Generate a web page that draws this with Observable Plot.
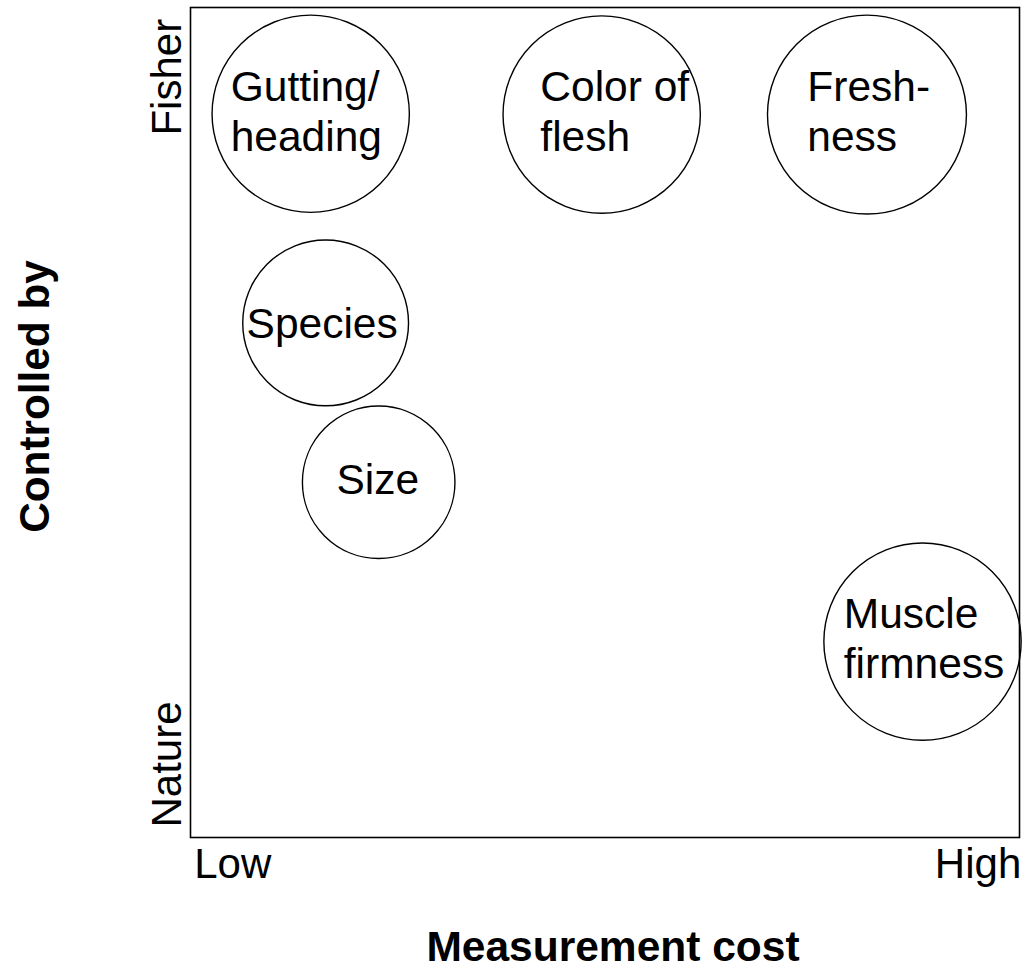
<!DOCTYPE html>
<html>
<head>
<meta charset="utf-8">
<script src="https://cdn.jsdelivr.net/npm/d3@7"></script>
<script src="https://cdn.jsdelivr.net/npm/@observablehq/plot@0.6"></script>
<style>
  html, body { margin: 0; padding: 0; background: #fff; }
  svg { display: block; overflow: visible; }
</style>
</head>
<body>
<div id="chart"></div>
<script>
// Attributes: measurement cost (x, 0 = low, 100 = high), controlled by (y, 0 = nature, 100 = fisher)
const attributes = ["Gutting/\nheading", "Color of\nflesh", "Fresh-\nness", "Species", "Size", "Muscle\nfirmness"];
const cost       = [14.5, 49.6, 81.6, 16.3, 22.7, 88.3];
const control    = [87.2, 87.1, 87.1, 62.0, 42.8, 23.6];
const extent     = [11.9, 11.9, 12.0, 10.0, 9.2, 11.9];   // bubble radius, in cost units
const labelCost    = [4.85, 42.2, 74.4, 6.76, 17.6, 78.8];
const labelControl = [93.0, 93.0, 93.0, 64.45, 45.65, 29.5];

const xTicks = [5.1, 95.0];
const xTickLabels = ["Low", "High"];
const yTicks = [8.8, 91.6];
const yTickLabels = ["Nature", "Fisher"];

const xTitle = "Measurement cost";
const yTitle = "Controlled by";

const data = attributes.map((name, i) => ({
  name, x: cost[i], y: control[i], r: extent[i], lx: labelCost[i], ly: labelControl[i]
}));
const yTickData = yTicks.map((v, i) => ({ v, label: yTickLabels[i] }));

const W = 1027, H = 969;
const mL = 190, mR = 8, mT = 7, mB = 132;
const pxPerUnit = (W - mL - mR) / 100;

const chart = Plot.plot({
  width: W,
  height: H,
  marginLeft: mL,
  marginRight: mR,
  marginTop: mT,
  marginBottom: mB,
  style: { fontFamily: "'Liberation Sans', Arial, Helvetica, sans-serif", color: "black", background: "white" },
  x: { domain: [0, 100], axis: null },
  y: { domain: [0, 100], axis: null },
  r: { type: "linear", domain: [0, 10], range: [0, 10 * pxPerUnit] },
  marks: [
    Plot.dot(data, { x: "x", y: "y", r: "r", fill: "none", stroke: "black", strokeWidth: 1.4 }),
    Plot.text(data, {
      x: "lx", y: "ly", text: "name", textAnchor: "start", lineAnchor: "top",
      fontSize: 42.5, lineHeight: 50 / 42.5, fill: "black"
    }),
    Plot.frame({ stroke: "black", strokeWidth: 1.6 }),
    Plot.axisX(xTicks, {
      tickSize: 0, tickPadding: 11, fontSize: 42, label: null,
      tickFormat: (d) => xTickLabels[xTicks.indexOf(d)], fill: "black"
    }),
    Plot.text(yTickData, {
      y: "v", text: "label", frameAnchor: "left", rotate: -90, textAnchor: "middle",
      lineAnchor: "bottom", dx: -10, fontSize: 42, fill: "black"
    }),
    Plot.text([xTitle], {
      text: (d) => d, frameAnchor: "bottom", lineAnchor: "middle", dx: 8, dy: 110,
      fontSize: 42.5, fontWeight: "bold", fill: "black"
    }),
    Plot.text([yTitle], {
      text: (d) => d, frameAnchor: "left", rotate: -90, textAnchor: "middle", lineAnchor: "bottom",
      dx: -142, dy: -26, fontSize: 42.3, fontWeight: "bold", fill: "black"
    })
  ]
});

document.getElementById("chart").appendChild(chart);
</script>
</body>
</html>
